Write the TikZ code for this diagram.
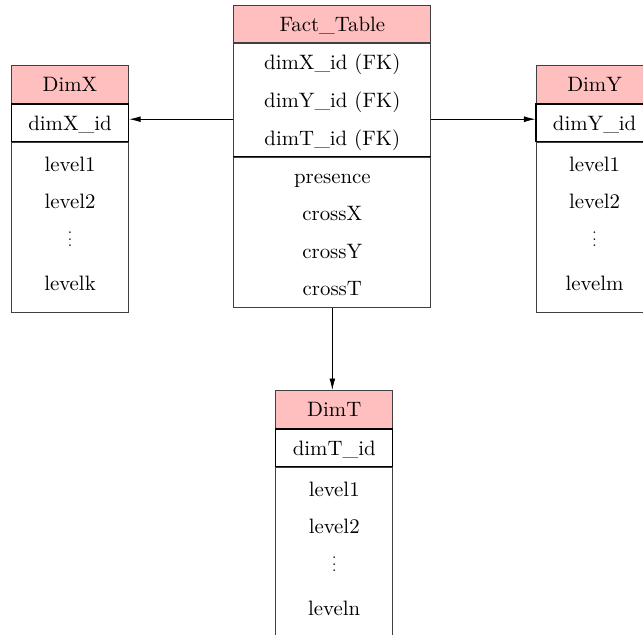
\documentclass[tikz,border=0pt]{standalone}
\usepackage{tikz}
\usetikzlibrary{positioning,arrows.meta}
\definecolor{headpink}{RGB}{255,191,191}
\renewcommand{\arraystretch}{1.5}
\def\tblrows#1{\begin{tabular}{c}#1\end{tabular}}
\def\tbldots{\scalebox{0.75}{$\vdots$}\\[3.4pt]}
\tikzset{
	tblhead/.style={draw=black!75, fill=headpink, inner sep=0pt},
	tblkey/.style={draw=black, semithick, inner sep=0pt},
	tblbody/.style={draw=black!75, inner sep=0pt},
	dimbody/.style={tblbody, minimum height=81.6pt, text depth=39pt},
	factw/.style={minimum width=94.6pt},
	dimw/.style={minimum width=56.2pt},
	fk/.style={-{Latex[length=5.5pt,width=2.8pt]}},
}

\begin{document}
\begin{tikzpicture}
		%%%%% START %%%%%
		\useasboundingbox (0, 0) rectangle (10.846, -10.711);
		\clip (0, 0) rectangle (10.846, -10.711);
		
		% fact table
		\node[tblhead, factw, anchor=north] (facthead) at (5.606, -0.084) {\tblrows{Fact\_Table}};
		\node[tblbody, factw, below=0pt of facthead] (factkeys) {\tblrows{dimX\_id (FK)\\ dimY\_id (FK)\\ dimT\_id (FK)}};
		\node[tblbody, factw, below=0pt of factkeys] (factbody) {\tblrows{presence\\ crossX\\ crossY\\ crossT}};
		\draw[semithick] (factkeys.south west) -- (factkeys.south east);
		
		% dimension X
		\node[tblhead, dimw, anchor=north] (xhead) at (1.181, -1.097) {\tblrows{DimX}};
		\node[tblkey, dimw, below=0pt of xhead] (xkey) {\tblrows{dimX\_id}};
		\node[dimbody, dimw, below=0pt of xkey] (xbody) {\tblrows{level1\\ level2\\ \tbldots levelk}};
		
		% dimension Y
		\node[tblhead, dimw, anchor=north] (yhead) at (10.03, -1.097) {\tblrows{DimY}};
		\node[tblkey, dimw, below=0pt of yhead] (ykey) {\tblrows{dimY\_id}};
		\node[dimbody, dimw, below=0pt of ykey] (ybody) {\tblrows{level1\\ level2\\ \tbldots levelm}};
		
		% dimension T
		\node[tblhead, dimw, anchor=north] (thead) at (5.638, -6.579) {\tblrows{DimT}};
		\node[tblkey, dimw, below=0pt of thead] (tkey) {\tblrows{dimT\_id}};
		\node[dimbody, dimw, below=0pt of tkey] (tbody) {\tblrows{level1\\ level2\\ \tbldots leveln}};
		
		% foreign keys
		\draw[fk] ([yshift=1.7pt]xkey.east -| factkeys.west) -- ([yshift=1.7pt]xkey.east);
		\draw[fk] ([yshift=1.7pt]ykey.west -| factkeys.east) -- ([yshift=1.7pt]ykey.west);
		\draw[fk] (factbody.south) -- (factbody.south |- thead.north);
		
		%%%%% END %%%%%
	\end{tikzpicture}
\end{document}
